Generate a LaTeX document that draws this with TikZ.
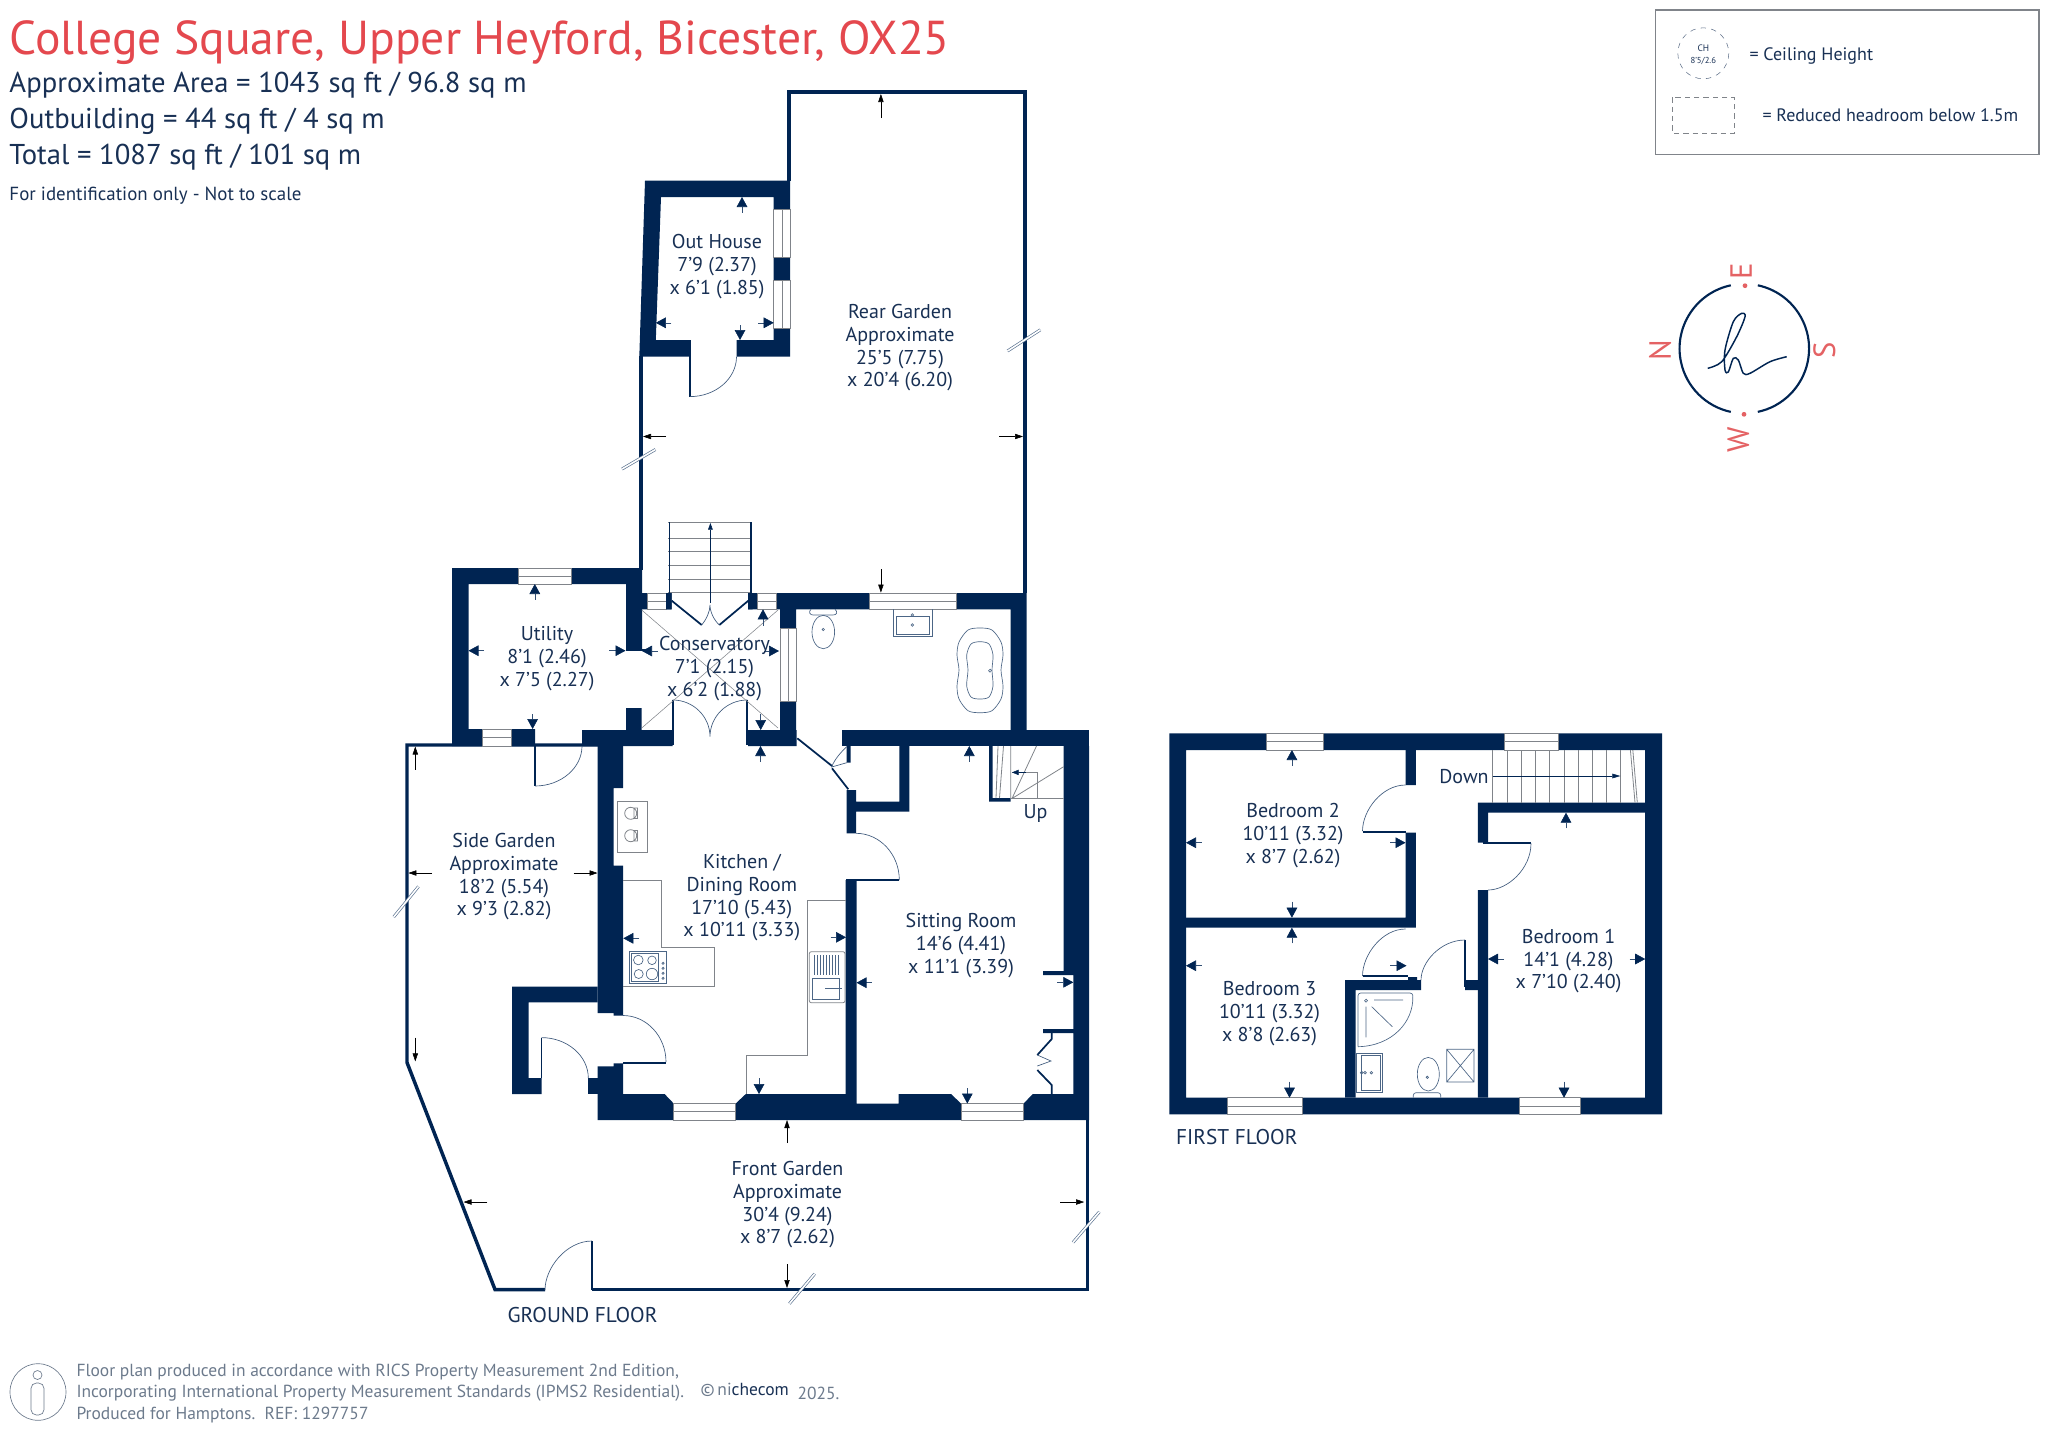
\documentclass[tikz,border=0pt]{standalone}
\usepackage{fontspec}
\setmainfont{PT Sans}
\usetikzlibrary{arrows.meta}
\definecolor{wallblue}{RGB}{0,36,82}
\definecolor{inkblue}{RGB}{24,48,84}
\definecolor{titlered}{RGB}{228,72,78}
\definecolor{compassred}{RGB}{228,98,100}
\definecolor{linegrey}{RGB}{128,132,138}
\definecolor{footgrey}{RGB}{108,122,140}
\tikzset{every picture/.style={line width=0.75pt}}
\tikzset{
  wall/.style={fill=wallblue,draw=none},
  boundary/.style={draw=wallblue,line width=2.6pt},
  leaf/.style={draw=wallblue,line width=1.3pt},
  swing/.style={draw=wallblue!75,line width=0.5pt},
  fitting/.style={draw=linegrey,line width=0.6pt},
  ware/.style={draw=wallblue!70,line width=0.5pt},
  pane/.style={draw=linegrey,fill=white,line width=0.6pt},
  roomarrow/.style={draw=wallblue!80,line width=0.4pt,-{Triangle[length=7.5pt,width=8pt,color=wallblue]}},
  gardenarrow/.style={draw=black,line width=0.4pt,-{Triangle[length=6pt,width=4pt]}},
  breakmark/.style={draw=wallblue!65,double=white,double distance=1.2pt,line width=0.5pt},
  roomtext/.style={align=center,inner sep=0.75pt,text=inkblue,font=\fontsize{15}{17}\selectfont},
  infotext/.style={anchor=west,inner sep=0.75pt,text=inkblue},
  compassletter/.style={inner sep=0pt,text=compassred,rotate=90,font=\fontsize{23}{23}\selectfont},
  foottext/.style={anchor=west,inner sep=0.75pt,text=footgrey,font=\fontsize{13.1}{13.1}\selectfont},
}
\begin{document}
\begin{tikzpicture}[x=0.75pt,y=0.75pt,yscale=-1,xscale=1]
\useasboundingbox (0,0) rectangle (2048,1428);

%Garden boundaries
\draw [boundary] (641,356) -- (641,570) ;
\draw [boundary] (789,181) -- (789,92) -- (1025,92) -- (1025,593) ;
\draw [boundary] (598,745) -- (407,745) -- (407,1062.5) -- (495,1289.5) -- (545,1289.5) ;
\draw [boundary] (592,1289.5) -- (1087.5,1289.5) -- (1087.5,1120) ;

%Ground floor walls
\fill [wall] (645,180.6) -- (790.2,180.6) -- (790.2,356.7) -- (736.5,356.7) -- (736.5,340) -- (773.7,340) -- (773.7,197) -- (661,197) -- (655.8,340) -- (690,340) -- (690,356.7) -- (639.3,356.7) -- cycle ;
\fill [wall] (452,568) -- (642,568) -- (642,650) -- (626,650) -- (626,584) -- (468.5,584) -- (468.5,729) -- (535,729) -- (535,746) -- (452,746) -- cycle ;
\fill [wall] (582,730) rectangle (672.7,746) (626,708) rectangle (641.7,730) ;
\fill [wall] (597.5,746) -- (623.2,746) -- (623.2,788) -- (613.6,788) -- (613.6,865.5) -- (623.2,865.5) -- (623.2,1015.5) -- (613.6,1015.5) -- (613.6,1013) -- (597.5,1013) -- cycle ;
\fill [wall] (512,986.7) -- (597.5,986.7) -- (597.5,1002.4) -- (528.7,1002.4) -- (528.7,1078) -- (541.5,1078) -- (541.5,1094) -- (512,1094) -- cycle ;
\fill [wall] (588.3,1078) rectangle (597.5,1094) ;
\fill [wall] (597.5,1066.3) -- (613.6,1066.3) -- (613.6,1063.3) -- (623.2,1063.3) -- (623.2,1094) -- (664.6,1094) -- (673.7,1103.5) -- (673.7,1120) -- (597.5,1120) -- cycle ;
\fill [wall] (735.7,1120) -- (735.7,1103.5) -- (745.8,1094) -- (845.5,1094) -- (845.5,880) -- (856.5,880) -- (856.5,1103.5) -- (898.7,1103.5) -- (898.7,1094) -- (951,1094) -- (961,1103.5) -- (961,1120) -- cycle ;
\fill [wall] (1063.6,746) -- (1089,746) -- (1089,1120) -- (1023.6,1120) -- (1023.6,1103.5) -- (1032.8,1094) -- (1073.3,1094) -- (1073.3,1033) -- (1043,1033) -- (1043,1029) -- (1073.3,1029) -- (1073.3,975) -- (1043,975) -- (1043,971) -- (1063.6,971) -- cycle ;
\fill [wall] (841.7,730) rectangle (1089,746) ;
\fill [wall] (1010.7,593) rectangle (1026.7,730) (776,593) rectangle (1026.7,609.3) (780,609) rectangle (796,730) (748,730) rectangle (796.7,746) ;
\fill [wall] (641.7,593) rectangle (671.7,609.3) (748,593) rectangle (776,609.3) ;
\fill [wall] (846.7,746) rectangle (850.7,762.7) (846.7,790) rectangle (856,833.3) (846.7,801.7) rectangle (909.3,811.7) (899.3,746) rectangle (909.3,811.7) ;
\fill [wall] (989,746) rectangle (992.7,801.7) (989,798) rectangle (1010.7,801.7) ;

%First floor walls
\fill [wall,even odd rule] (1169.3,733.3) rectangle (1662,1114.3) (1186,750) rectangle (1645.2,1097.7) ;
\fill [wall] (1186,917.7) rectangle (1415.8,927.7) (1405.5,750) rectangle (1415.8,785) (1405.5,832.7) rectangle (1415.8,927.7) ;
\fill [wall] (1345.2,980) rectangle (1421,990) (1345.2,980) rectangle (1355.6,1097.7) (1408,977) rectangle (1417,980) (1465,980) rectangle (1478,990) ;
\fill [wall] (1477.8,890) rectangle (1488,1097.7) (1477.8,802.7) rectangle (1488,842.7) (1477.8,802.7) rectangle (1645.2,812.7) ;

%Windows
\draw [pane] (518,568) rectangle (571,584) (518,576) -- (571,576) ;
\draw [pane] (482,729) rectangle (511,746) (482,737.5) -- (511,737.5) ;
\draw [pane] (773.7,209) rectangle (790.2,257) (782,209) -- (782,257) ;
\draw [pane] (773.7,280) rectangle (790.2,328) (782,280) -- (782,328) ;
\draw [pane] (647.3,593) rectangle (666,609.3) (647.3,601) -- (666,601) ;
\draw [pane] (757.3,593) rectangle (776,609.3) (757.3,601) -- (776,601) ;
\draw [pane] (869,593) rectangle (956.7,609.3) (869,601) -- (956.7,601) ;
\draw [pane] (780,628.3) rectangle (796,701.7) (788,628.3) -- (788,701.7) ;
\draw [pane] (673.7,1103.5) rectangle (735.7,1120) (673.7,1111.7) -- (735.7,1111.7) ;
\draw [pane] (961,1103.5) rectangle (1023.6,1120) (961,1111.7) -- (1023.6,1111.7) ;
\draw [pane] (1266.4,733.3) rectangle (1323.2,750) (1266.4,741.7) -- (1323.2,741.7) ;
\draw [pane] (1504,733.3) rectangle (1558,750) (1504,741.7) -- (1558,741.7) ;
\draw [pane] (1227.8,1097.7) rectangle (1301.9,1114.3) (1227.8,1106) -- (1301.9,1106) ;
\draw [pane] (1519.8,1097.7) rectangle (1580,1114.3) (1519.8,1106) -- (1580,1106) ;

%Outside steps
\draw [fitting] (668.4,522.3) -- (752,522.3) (668.4,538) -- (752,538) (668.4,551.5) -- (752,551.5) (668.4,565) -- (752,565) (668.4,579) -- (752,579) (668.4,592.6) -- (752,592.6) ;
\draw [leaf] (669.5,522.3) -- (669.5,593) (751,522.3) -- (751,593) ;
\fill [wall] (666,593) rectangle (671.7,609.3) (748,593) rectangle (752.5,609.3) ;
\draw [draw=wallblue,line width=0.4pt,-{Triangle[length=5pt,width=3.5pt,color=wallblue]}] (710.4,602.6) -- (710.4,523) ;

%Doors
\draw [leaf] (690,340) -- (690,396.6) ;
\draw [swing] (690,396.6) .. controls (715.6,396.6) and (736.5,378.6) .. (736.5,356.7) ;
\draw [leaf] (626,650) -- (649,650) ;
\draw [leaf] (671.7,600.7) -- (701.7,625) (748.3,600.7) -- (719.3,625) ;
\draw [swing] (701.7,625) .. controls (706,620) and (710,612) .. (710,605) .. controls (710,612) and (714,620) .. (719.3,625) ;
\draw [leaf] (672.7,700) -- (672.7,745) (747.3,700) -- (747.3,745) ;
\draw [swing] (672.7,700) .. controls (693.2,700) and (710,716.5) .. (710,736.7) .. controls (710,716.5) and (726.8,700) .. (747.3,700) ;
\draw [leaf] (535,746) -- (535,786) ;
\draw [swing] (535,786) .. controls (560.9,786) and (582,768) .. (582,746) ;
\draw [leaf] (592,1290) -- (592,1241) ;
\draw [swing] (592,1241) .. controls (566.2,1241) and (545,1268) .. (545,1290) ;
\draw [leaf] (623,1063) -- (666,1063) ;
\draw [swing] (623,1015.5) .. controls (646.7,1015.5) and (666,1036.4) .. (666,1062) ;
\draw [leaf] (541.5,1037.6) -- (541.5,1078) ;
\draw [swing] (541.5,1037.6) .. controls (567.2,1037.6) and (588.3,1055.8) .. (588.3,1078) ;
\draw [leaf] (846,880) -- (899.3,880) ;
\draw [swing] (856,833.3) .. controls (879.8,833.3) and (899.3,854.3) .. (899.3,880) ;
\draw [leaf] (797.3,738.3) -- (832,766) (832,768.3) -- (848.3,789.3) ;
\draw [swing] (846.7,746.7) .. controls (841,752) and (834,760) .. (831.7,767) -- (846.7,762.7) ;
\draw [leaf] (1051.7,1033) -- (1051.7,1039) -- (1037.3,1055) (1037.3,1070) -- (1051.7,1085) -- (1051.7,1094) ;
\draw [swing] (1037.3,1055) -- (1051,1061) -- (1037.3,1066) ;
\draw [leaf] (1362.5,832) -- (1405.5,832) ;
\draw [swing] (1405.5,785) .. controls (1381.9,785) and (1362.5,810.3) .. (1362.5,831) ;
\draw [leaf] (1362.5,976) -- (1408,976) ;
\draw [swing] (1405.5,929) .. controls (1381.9,929) and (1362.5,955) .. (1362.5,976) ;
\draw [leaf] (1465,940) -- (1465,987) ;
\draw [swing] (1465,940) .. controls (1440.8,940) and (1421,962) .. (1421,980) ;
\draw [leaf] (1483,843.3) -- (1531,843.3) ;
\draw [swing] (1531,843.3) .. controls (1531,869) and (1507.4,890) .. (1488,890) ;

%Conservatory cross
\draw [fitting,line width=0.4pt] (641.7,610) -- (778,728) (778,610) -- (641.7,728) ;

%Bathroom fittings
\draw [ware] (811,609.3) .. controls (808,612) and (810,615) .. (813,615) -- (833,615) .. controls (837,615) and (838,612) .. (835,609.3) ;
\draw [ware] (823.3,632) ellipse [x radius=11.3,y radius=16.7] ;
\draw [ware] (823.3,629.5) circle [radius=1.2] ;
\draw [ware] (893,609.3) -- (893,636.7) -- (932,636.7) -- (932,609.3) (896,616) rectangle (929.5,634.5) ;
\draw [ware] (912.3,615) circle [radius=1.3] (912.3,625) circle [radius=1.3] ;
\draw [ware] plot [smooth cycle] coordinates {(980,628) (992,630) (1001,642) (1003,655) (1001,670) (1003,686) (1001,699) (992,710.7) (980,712.7) (968,710.7) (959,699) (957,686) (959,670) (957,655) (959,642) (968,630)} ;
\draw [ware] plot [smooth cycle] coordinates {(980,641.7) (989,644) (993,655) (992,670) (993,686) (989,697) (980,699) (971,697) (966.7,686) (968,670) (966.7,655) (971,644)} ;
\draw [ware] (990,670.7) circle [radius=1.5] ;

%Kitchen fittings
\draw [fitting] (617.3,801) rectangle (647.7,852.7) ;
\draw [fitting] (630.7,813.3) circle [radius=6] (630.7,835.7) circle [radius=6] (634,808) rectangle (637.5,818.5) (634,830.5) rectangle (637.5,841) ;
\draw [fitting] (623.3,880.7) -- (661.7,880.7) -- (661.7,947.7) -- (714,947.7) -- (714,986.7) -- (623.3,986.7) ;
\draw [ware] (629.3,951) rectangle (666.7,983.3) (631.3,953.3) rectangle (658,981.3) ;
\draw [ware] (638.3,960) circle [radius=4.8] (652,960.3) circle [radius=4.3] (638.7,974) circle [radius=4.5] (652,974) circle [radius=5.7] ;
\draw [ware] (663,963.3) circle [radius=1.1] (663,968.3) circle [radius=1.1] (663,973.3) circle [radius=1.1] (663,978.3) circle [radius=1.1] ;
\draw [fitting] (846,900) -- (807.7,900) -- (807.7,1055.7) -- (746.7,1055.7) -- (746.7,1094) ;
\draw [fitting,rounded corners=1.5pt] (809.3,951.7) rectangle (845,1002.7) ;
\draw [ware] (812.7,978) rectangle (839.3,999) (825,988.3) -- (842,988.3) ;
\draw [ware] (814,955) -- (814,975) (817,955) -- (817,975) (820,955) -- (820,975) (823,955) -- (823,975) (826,955) -- (826,975) (829,955) -- (829,975) (832,955) -- (832,975) (835,955) -- (835,975) (838,955) -- (838,975) ;

%Stairs up
\draw [fitting] (1010.7,746) -- (1010.7,798.5) -- (1063.6,798.5) (1012,798.5) -- (1036.5,746) (1012,798.5) -- (1063.6,766.7) (1012,772.4) -- (1037.4,772.4) -- (1037.4,798.5) (998,746) -- (996,798) (1003.5,746) -- (999.5,798) ;
\draw [draw=wallblue,line width=0.4pt,-{Triangle[length=5pt,width=4pt,color=wallblue]}] (1026,772.4) -- (1012,772.4) ;

%Stairs down
\draw [fitting] (1492.6,750) -- (1492.6,802.7) (1507,750) -- (1507,802.7) (1521.2,750) -- (1521.2,802.7) (1535.5,750) -- (1535.5,802.7) (1549.8,750) -- (1549.8,802.7) (1564.2,750) -- (1564.2,802.7) (1578.3,750) -- (1578.3,802.7) (1592,750) -- (1592,802.7) (1606.3,750) -- (1606.3,802.7) (1620.3,750) -- (1620.3,802.7) ;
\draw [fitting] (1630.4,750) -- (1635,802.7) (1632.8,750) -- (1637.3,802.7) ;
\draw [draw=wallblue,line width=0.4pt,-{Triangle[length=6pt,width=3.5pt,color=wallblue]}] (1492.6,776) -- (1620.3,776) ;

%First floor bathroom fittings
\draw [ware,rounded corners=2pt] (1358,1046.7) -- (1358,993) -- (1412.7,993) .. controls (1414,1022) and (1392,1046) .. (1358,1046.7) ;
\draw [ware] (1374,1000) -- (1403,1000) (1366,1006.7) -- (1366,1037.3) (1371.7,1006.7) -- (1392.3,1026.7) ;
\draw [ware] (1366,1000.7) circle [radius=1.5] ;
\draw [ware] (1356,1053.3) rectangle (1382.7,1092.3) (1361.7,1055) rectangle (1380.7,1090) ;
\draw [ware] (1361.7,1072.7) circle [radius=1.3] (1365,1072.7) circle [radius=1.3] (1371.3,1072.7) circle [radius=1.3] ;
\draw [ware] (1428.3,1074.2) ellipse [x radius=11,y radius=16.8] ;
\draw [ware] (1427.3,1077.3) circle [radius=1.2] ;
\draw [ware,rounded corners=2pt] (1413.3,1097.7) -- (1413.3,1092.7) -- (1440.7,1092.7) -- (1440.7,1097.7) ;
\draw [ware] (1446.7,1049.3) rectangle (1474,1082) (1446.7,1049.3) -- (1474,1082) (1474,1049.3) -- (1446.7,1082) ;

%Room dimension arrows
\draw [roomarrow] (742,212.7) -- (742,197) ;
\draw [roomarrow] (671.4,322.8) -- (655.8,322.8) ;
\draw [roomarrow] (758,322.8) -- (773.7,322.8) ;
\draw [roomarrow] (740,325) -- (740,340) ;
\draw [roomarrow] (534.8,599.5) -- (534.8,584) ;
\draw [roomarrow] (484,650.7) -- (468.5,650.7) ;
\draw [roomarrow] (609,650.7) -- (625.5,650.7) ;
\draw [roomarrow] (532.6,714) -- (532.6,729) ;
\draw [roomarrow] (657.5,651) -- (642,651) ;
\draw [roomarrow] (763.8,651) -- (779,651) ;
\draw [roomarrow] (763,625.5) -- (763,609.3) ;
\draw [roomarrow] (760.7,714) -- (760.7,730) ;
\draw [roomarrow] (760.5,762) -- (760.5,746) ;
\draw [roomarrow] (639.3,938.3) -- (623.3,938.3) ;
\draw [roomarrow] (830.7,937.3) -- (846,937.3) ;
\draw [roomarrow] (759,1078.3) -- (759,1094) ;
\draw [roomarrow] (969.3,761.7) -- (969.3,746) ;
\draw [roomarrow] (871.7,982.7) -- (856.5,982.7) ;
\draw [roomarrow] (1057.3,982.3) -- (1073.3,982.3) ;
\draw [roomarrow] (967.3,1088.3) -- (967.3,1103.5) ;
\draw [roomarrow] (1291.9,766) -- (1291.9,750) ;
\draw [roomarrow] (1201.7,842.7) -- (1186,842.7) ;
\draw [roomarrow] (1390.4,842.7) -- (1405.5,842.7) ;
\draw [roomarrow] (1291.9,901.7) -- (1291.9,917.7) ;
\draw [roomarrow] (1291.9,943.3) -- (1291.9,927.7) ;
\draw [roomarrow] (1201.7,965.7) -- (1186,965.7) ;
\draw [roomarrow] (1390.4,965.7) -- (1406.5,965.7) ;
\draw [roomarrow] (1289.5,1081.7) -- (1289.5,1097.7) ;
\draw [roomarrow] (1566,828.3) -- (1566,812.7) ;
\draw [roomarrow] (1504,959) -- (1488,959) ;
\draw [roomarrow] (1629.7,959) -- (1645.2,959) ;
\draw [roomarrow] (1564,1081.7) -- (1564,1097.7) ;

%Garden dimension arrows
\draw [gardenarrow] (880.9,118) -- (880.9,94) ;
\draw [gardenarrow] (880.9,569) -- (880.9,592.6) ;
\draw [gardenarrow] (666,436.5) -- (643,436.5) ;
\draw [gardenarrow] (999,436.5) -- (1023,436.5) ;
\draw [gardenarrow] (415.3,769.8) -- (415.3,746.5) ;
\draw [gardenarrow] (432.2,873) -- (408.4,873) ;
\draw [gardenarrow] (573.7,873) -- (597.5,873) ;
\draw [gardenarrow] (415.3,1037.6) -- (415.3,1061.4) ;
\draw [gardenarrow] (787,1143) -- (787,1120) ;
\draw [gardenarrow] (487.3,1202) -- (463.5,1202) ;
\draw [gardenarrow] (1060.3,1202) -- (1084.2,1202) ;
\draw [gardenarrow] (787,1264) -- (787,1288) ;

%Break marks
\draw [breakmark] (1007.5,351) -- (1040.4,329.8) ;
\draw [breakmark] (622,469) -- (655.4,449.5) ;
\draw [breakmark] (393.7,917) -- (418.5,886.5) ;
\draw [breakmark] (1073,1242.4) -- (1099.4,1211.8) ;
\draw [breakmark] (789.4,1303.6) -- (814.7,1273.8) ;

%Legend
\draw [draw=linegrey,line width=0.8pt] (1655.3,10) rectangle (2039,154.7) ;
\draw [draw=inkblue!70,line width=0.4pt,dash pattern={on 4pt off 4pt}] (1703.3,53.3) circle [radius=25.5] ;
\draw [draw=linegrey,line width=0.6pt,dash pattern={on 4pt off 3pt}] (1672.7,97.3) rectangle (1734,133.3) ;

%Compass
\draw [draw=wallblue,line width=1.6pt] (1744.3,285.3) ++(13.5,0) arc [start angle=-78,end angle=78,radius=64.7] ;
\draw [draw=wallblue,line width=1.6pt] (1744.3,285.3) ++(-13.5,0) arc [start angle=258,end angle=102,radius=64.7] ;
\fill [compassred] (1745,285.7) circle [radius=2.4] (1744,414.3) circle [radius=2.4] ;
\draw [draw=wallblue,line width=1.1pt] plot [smooth] coordinates {(1707.7,368.3) (1721.7,361.7) (1736.7,336.7) (1745,316.7) (1741.7,313.3) (1733.3,321.7) (1725,350) (1725,370) (1728.3,372) (1733.3,358.3) (1738.3,360) (1743.3,373.3) (1750,373.3) (1770,361.7) (1786.7,356.7)} ;

%Footer icon
\draw [draw=footgrey,line width=0.5pt] (38,1392) ellipse [x radius=28,y radius=28.3] ;
\draw [draw=footgrey,line width=0.5pt] (37.5,1375) circle [radius=4.5] ;
\draw [draw=footgrey,line width=0.5pt,rounded corners=4pt] (31,1383) rectangle (44,1415) ;

% Text Node
\draw (8,43) node (title) [infotext,text=titlered,font=\fontsize{35.7}{35.7}\selectfont] {College Square, Upper Heyford, Bicester, OX25};
\draw (8,85.6) node (areamain) [infotext,font=\fontsize{21.5}{21.5}\selectfont] {Approximate Area = 1043 sq ft / 96.8 sq m};
\draw (8,121.6) node (areaout) [infotext,font=\fontsize{21.5}{21.5}\selectfont] {Outbuilding = 44 sq ft / 4 sq m};
\draw (8,157.6) node (areatotal) [infotext,font=\fontsize{21.5}{21.5}\selectfont] {Total = 1087 sq ft / 101 sq m};
\draw (8,196) node (notscale) [infotext,font=\fontsize{14.2}{14.2}\selectfont] {For identification only - Not to scale};
% Text Node
\draw (717,266.6) node (outhouse) [roomtext] {Out House\\7'9 (2.37)\\x 6'1 (1.85)};
\draw (900,348) node (reargarden) [roomtext] {Rear Garden\\Approximate\\25'5 (7.75)\\x 20'4 (6.20)};
\draw (547,658.6) node (utility) [roomtext] {Utility\\8'1 (2.46)\\x 7'5 (2.27)};
\draw (714.5,668.6) node (conservatory) [roomtext] {Conservatory\\7'1 (2.15)\\x 6'2 (1.88)};
\draw (504,877) node (sidegarden) [roomtext] {Side Garden\\Approximate\\18'2 (5.54)\\x 9'3 (2.82)};
\draw (741.8,898) node (kitchen) [roomtext] {Kitchen /\\Dining Room\\17'10 (5.43)\\x 10'11 (3.33)};
\draw (961,945.6) node (sitting) [roomtext] {Sitting Room\\14'6 (4.41)\\x 11'1 (3.39)};
\draw (787.5,1205) node (frontgarden) [roomtext] {Front Garden\\Approximate\\30'4 (9.24)\\x 8'7 (2.62)};
\draw (1293,835.6) node (bedtwo) [roomtext] {Bedroom 2\\10'11 (3.32)\\x 8'7 (2.62)};
\draw (1269.5,1013.6) node (bedthree) [roomtext] {Bedroom 3\\10'11 (3.32)\\x 8'8 (2.63)};
\draw (1568.5,961.2) node (bedone) [roomtext] {Bedroom 1\\14'1 (4.28)\\x 7'10 (2.40)};
\draw (1035.6,813) node (upstairs) [roomtext] {Up};
\draw (1464,777) node (downstairs) [roomtext] {Down};
\draw (582.5,1315) node (groundfloor) [roomtext,font=\fontsize{16}{16}\selectfont] {GROUND FLOOR};
\draw (1236.8,1137) node (firstfloor) [roomtext,font=\fontsize{16}{16}\selectfont] {FIRST FLOOR};
% Text Node
\draw (1703.3,48) node (chtop) [roomtext,font=\fontsize{7}{7}\selectfont] {CH};
\draw (1703.3,61) node (chvalue) [roomtext,font=\fontsize{6.5}{6.5}\selectfont] {8'5/2.6};
\draw (1748,55.5) node (chlabel) [infotext,font=\fontsize{13.5}{13.5}\selectfont] {= Ceiling Height};
\draw (1761,115) node (headroom) [infotext,font=\fontsize{13.5}{13.5}\selectfont] {= Reduced headroom below 1.5m};
% Text Node
\draw (1741,271.7) node (compasse) [compassletter] {E};
\draw (1660,350) node (compassn) [compassletter] {N};
\draw (1824.3,350.7) node (compasss) [compassletter] {S};
\draw (1738.3,439.3) node (compassw) [compassletter] {W};
% Text Node
\draw (75,1372.5) node (footone) [foottext] {Floor plan produced in accordance with RICS Property Measurement 2nd Edition,};
\draw (75,1393.5) node (foottwo) [foottext] {Incorporating International Property Measurement Standards (IPMS2 Residential).};
\draw (75,1415) node (footthree) [foottext] {Produced for Hamptons.\ \ REF:\ 1297757};
\draw (699,1390) node (nichecom) [foottext] {\textcopyright\,n{\color{footgrey}i}{\color{inkblue}checom}};
\draw (796,1393.5) node (footyear) [foottext] {2025.};
\end{tikzpicture}
\end{document}
